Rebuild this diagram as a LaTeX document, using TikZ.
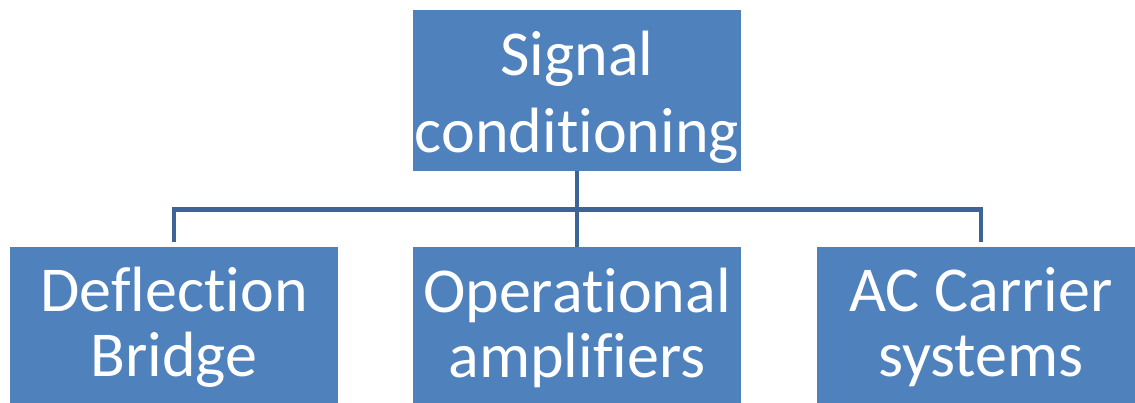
\documentclass[tikz,border=0pt]{standalone}
\usepackage{fontspec}
\setmainfont{Carlito}[Ligatures=NoCommon]
\definecolor{boxfill}{HTML}{4F81BD}
\definecolor{linec}{HTML}{3C6597}
\begin{document}
\begin{tikzpicture}[x=1pt,y=-1pt,
  box/.style={fill=boxfill,draw=none,minimum width=328pt,minimum height=161pt,inner sep=0pt,
    text=white,align=center},
  topfont/.style={font=\fontsize{64}{77}\selectfont},
  botfont/.style={font=\fontsize{64}{65}\selectfont},
  conn/.style={draw=linec,line width=4.5pt}]
\useasboundingbox (0,0) rectangle (1135,403);
\clip (0,0) rectangle (1135,403);
\node[box,topfont] (top) at (577,90.5) {\rule{0pt}{58pt}Signal\\conditioning};
\node[box,botfont] (l) at (174,327.5) {Deflection\\Bridge};
\node[box,botfont] (m) at (577,327.5) {Operational\\amplifiers};
\node[box,botfont] (r) at (981,327.5) {AC Carrier\\systems};
\coordinate (hy) at (0,209.5);
\coordinate (by) at (0,242);
\draw[conn] (top.south) -- (m.north);
\draw[conn] (l.north |- by) -- (l.north |- hy) -- (r.north |- hy) -- (r.north |- by);
\end{tikzpicture}
\end{document}
